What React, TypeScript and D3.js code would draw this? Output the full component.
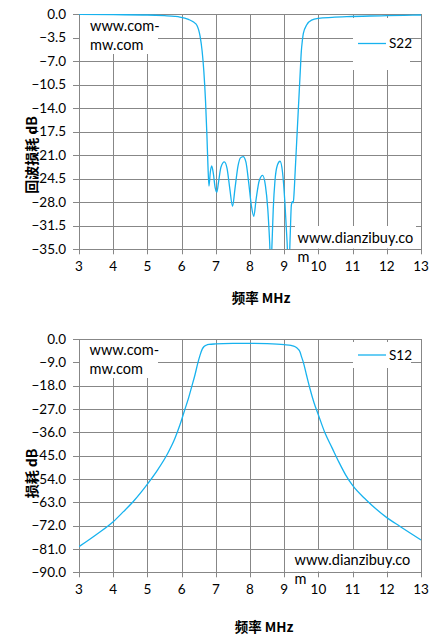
import React from 'react';
import * as d3 from 'd3';

// ---------- data ----------
const xTicks = [3, 4, 5, 6, 7, 8, 9, 10, 11, 12, 13];
const s22YTicks = [0, -3.5, -7, -10.5, -14, -17.5, -21, -24.5, -28, -31.5, -35];
const s12YTicks = [0, -9, -18, -27, -36, -45, -54, -63, -72, -81, -90];

const s22Freq = [3, 4, 5, 5.5, 5.8, 5.95, 6.2, 6.35, 6.45, 6.54, 6.6, 6.65, 6.7, 6.74, 6.77, 6.8, 6.84, 6.88, 6.93, 6.98, 7.03, 7.08, 7.15, 7.25, 7.33, 7.41, 7.49, 7.56, 7.65, 7.72, 7.8, 7.88, 7.96, 8.04, 8.11, 8.18, 8.27, 8.37, 8.45, 8.52, 8.575, 8.61, 8.645, 8.68, 8.73, 8.8, 8.88, 8.95, 9.02, 9.085, 9.13, 9.175, 9.21, 9.24, 9.265, 9.29, 9.32, 9.35, 9.38, 9.41, 9.44, 9.47, 9.5, 9.53, 9.56, 9.66, 9.8, 10.0, 10.4, 10.83, 11.5, 12, 12.5, 13];
const s22Db = [-0.05, -0.1, -0.15, -0.25, -0.35, -0.45, -0.8, -1.2, -1.7, -3.3, -5.5, -8.5, -13, -18, -22.5, -25.6, -23.5, -22.6, -23.8, -25.8, -26.5, -25, -22.8, -22.0, -23, -26, -28.6, -26, -22.6, -21.4, -21.2, -22, -25, -28.5, -30.1, -27.5, -24.8, -24.0, -25.5, -29, -34, -38, -34, -29, -24.8, -22.5, -21.9, -23.5, -28, -34, -39, -33, -28.4, -27.9, -28.1, -26.5, -23.5, -20.5, -17.5, -14.5, -11.5, -8.5, -5.6, -4.0, -2.9, -1.6, -0.9, -0.64, -0.5, -0.4, -0.3, -0.25, -0.2, -0.15];

const s12Freq = [3, 3.5, 4, 4.3, 4.6, 5, 5.3, 5.6, 5.8, 5.95, 6.1, 6.2, 6.3, 6.39, 6.47, 6.54, 6.6, 6.65, 6.72, 6.8, 7.0, 7.5, 8.0, 8.5, 9.0, 9.2, 9.32, 9.4, 9.46, 9.51, 9.56, 9.65, 9.75, 9.87, 10.0, 10.2, 10.4, 10.6, 10.8, 11.0, 11.4, 12.0, 12.4, 13];
const s12Db = [-80.1, -75.5, -70.5, -66.6, -62.5, -56, -50.5, -44, -38.5, -33.2, -27, -22.9, -18.2, -13.9, -9.5, -6.2, -4, -3, -2.4, -2.1, -1.9, -1.7, -1.66, -1.8, -2.2, -2.5, -3.0, -3.8, -4.9, -7, -9, -13.8, -19, -24.5, -29.3, -36.5, -42, -47.5, -52.5, -56.5, -62.1, -68.9, -72.4, -77.5];

const LINE = '#17b2ee';
const GRID = '#878787';
const TICK_FONT = 'Lato, "Liberation Sans", sans-serif';
const CJK_FONT = '"Noto Sans CJK SC", sans-serif';

type PanelProps = {
  top: number;
  bottom: number;
  yTicks: number[];
  freq: number[];
  db: number[];
  yTitle: string;
  yTitleY: number;
  xTitleX: number;
  xTitleY: number;
  legend: string;
  legendBox: [number, number, number, number];
  legendY: number;
  wm1Box: [number, number, number, number];
  wm1X: number;
  wm1Y: number;
  wm2Box: [number, number, number, number];
  wm2X: number;
  wm2Y: number;
  id: string;
};

const LEFT = 79;
const RIGHT = 421;

function Panel(p: PanelProps) {
  const x = d3.scaleLinear().domain([3, 13]).range([LEFT, RIGHT]);
  const yMin = p.yTicks[p.yTicks.length - 1];
  const y = d3.scaleLinear().domain([yMin, 0]).range([p.bottom, p.top]);
  const pts: [number, number][] = p.freq.map((f, i) => [f, p.db[i]]);
  const line = d3
    .line<[number, number]>()
    .x((d) => x(d[0]))
    .y((d) => y(d[1]))
    .curve(d3.curveMonotoneX);
  const fmt = d3.format('.1f');
  const crisp = (v: number) => Math.round(v) + 0.5;
  return (
    <g>
      <defs>
        <clipPath id={p.id}>
          <rect x={LEFT} y={p.top} width={RIGHT - LEFT} height={p.bottom - p.top} />
        </clipPath>
      </defs>
      {/* grid */}
      {p.yTicks.map((t) => (
        <line key={'h' + t} x1={LEFT - 6} x2={RIGHT} y1={crisp(y(t))} y2={crisp(y(t))} stroke={GRID} strokeWidth={1} />
      ))}
      {xTicks.map((t) => (
        <line key={'v' + t} x1={crisp(x(t))} x2={crisp(x(t))} y1={p.top} y2={p.bottom + 5} stroke={GRID} strokeWidth={1} />
      ))}
      {/* white boxes */}
      <rect x={p.wm1Box[0]} y={p.wm1Box[1]} width={p.wm1Box[2]} height={p.wm1Box[3]} fill="#fff" />
      <rect x={p.wm2Box[0]} y={p.wm2Box[1]} width={p.wm2Box[2]} height={p.wm2Box[3]} fill="#fff" />
      <rect x={p.legendBox[0]} y={p.legendBox[1]} width={p.legendBox[2]} height={p.legendBox[3]} fill="#fff" />
      {/* y tick labels */}
      {p.yTicks.map((t) => (
        <text key={'yl' + t} x={66} y={y(t)} dy="0.35em" textAnchor="end" fontFamily={TICK_FONT} fontSize={13.5} fill="#000">
          {fmt(t)}
        </text>
      ))}
      {xTicks.map((t) => (
        <text key={'xl' + t} x={x(t)} y={p.bottom + 22} textAnchor="middle" fontFamily={TICK_FONT} fontSize={13.5} fill="#000">
          {t}
        </text>
      ))}
      {/* curve */}
      <path d={line(pts) || ''} fill="none" stroke={LINE} strokeWidth={1.3} clipPath={`url(#${p.id})`} />
      {/* legend */}
      <line x1={358} x2={386} y1={p.legendY} y2={p.legendY} stroke={LINE} strokeWidth={1.3} />
      <text x={389} y={p.legendY} dy="0.35em" fontFamily={TICK_FONT} fontSize={13.5} fill="#000">
        {p.legend}
      </text>
      {/* watermarks */}
      <text x={p.wm1X} y={p.wm1Y} fontFamily={TICK_FONT} fontSize={14.5} fill="#000">www.com-</text>
      <text x={p.wm1X} y={p.wm1Y + 19} fontFamily={TICK_FONT} fontSize={14.5} fill="#000">mw.com</text>
      <text x={p.wm2X} y={p.wm2Y} fontFamily={TICK_FONT} fontSize={14.5} fill="#000">www.dianzibuy.co</text>
      <text x={p.wm2X} y={p.wm2Y + 19} fontFamily={TICK_FONT} fontSize={14.5} fill="#000">m</text>
      {/* titles */}
      <text
        transform={`translate(37,${p.yTitleY}) rotate(-90)`}
        textAnchor="middle"
        fontFamily={CJK_FONT}
        fontWeight={700}
        fontSize={14}
        fill="#000"
      >
        {p.yTitle}
      </text>
      <text x={p.xTitleX} y={p.xTitleY} textAnchor="middle" fontFamily={CJK_FONT} fontWeight={700} fontSize={13.5} fill="#000">
        频率 MHz
      </text>
    </g>
  );
}

export default function App() {
  return (
    <svg
      width={441}
      height={640}
      style={{ position: 'absolute', left: 0, top: 0, background: '#fff' }}
      xmlns="http://www.w3.org/2000/svg"
    >
      <rect x={0} y={0} width={441} height={640} fill="#fff" />
      <Panel
        id="c1"
        top={14}
        bottom={249.3}
        yTicks={s22YTicks}
        freq={s22Freq}
        db={s22Db}
        yTitle="回波损耗 dB"
        yTitleY={155}
        xTitleX={261}
        xTitleY={303}
        legend="S22"
        legendBox={[353, 18, 57, 52]}
        legendY={43.5}
        wm1Box={[80, 15, 78, 39]}
        wm1X={90}
        wm1Y={31}
        wm2Box={[295, 226, 121, 22.5]}
        wm2X={297.5}
        wm2Y={242.7}
      />
      <Panel
        id="c2"
        top={339}
        bottom={572.3}
        yTicks={s12YTicks}
        freq={s12Freq}
        db={s12Db}
        yTitle="损耗 dB"
        yTitleY={473.5}
        xTitleX={264}
        xTitleY={632}
        legend="S12"
        legendBox={[353, 342, 58, 26]}
        legendY={355}
        wm1Box={[80, 340, 78, 38]}
        wm1X={89.5}
        wm1Y={355}
        wm2Box={[292, 550, 121, 21.5]}
        wm2X={294.5}
        wm2Y={565}
      />
    </svg>
  );
}
